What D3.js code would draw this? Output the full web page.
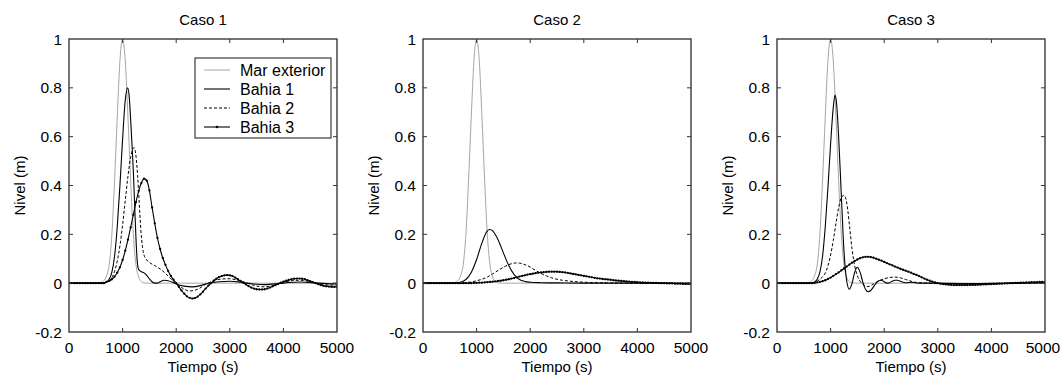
<!DOCTYPE html>
<html>
<head>
<meta charset="utf-8">
<script src="https://cdn.jsdelivr.net/npm/d3@7"></script>
<style>
  body { margin: 0; background: #fff; overflow: hidden; }
  svg { display: block; }
</style>
</head>
<body>
<svg id="chart" width="1062" height="382"></svg>
<script>
// ---- data ----
const panelTitles = ["Caso 1", "Caso 2", "Caso 3"];
const seriesNames = ["Mar exterior", "Bahia 1", "Bahia 2", "Bahia 3"];
const xTicks = [0, 1000, 2000, 3000, 4000, 5000];
const yTicks = [-0.2, 0, 0.2, 0.4, 0.6, 0.8, 1];

// [tiempo (s), nivel (m)] -- same input wave in all three cases
const marExterior = [[0,0],[500,0],[550,0.001],[600,0.003],[650,0.01],[700,0.03],[750,0.075],
  [800,0.2],[850,0.42],[900,0.68],[950,0.91],[1000,1],[1050,0.91],[1100,0.68],[1150,0.42],
  [1200,0.2],[1250,0.075],[1300,0.025],[1350,0.006],[1400,0.001],[1500,0],[5000,0]];

const caso1Bahia1 = [[0,0],[600,0],[650,0.001],[700,0.005],[750,0.016],[800,0.045],[850,0.11],
  [900,0.23],[950,0.4],[1000,0.59],[1050,0.75],[1095,0.8],[1125,0.76],[1150,0.67],[1175,0.57],
  [1200,0.46],[1225,0.32],[1250,0.18],[1275,0.085],[1300,0.056],[1350,0.047],[1400,0.042],
  [1450,0.032],[1500,0.018],[1550,0.006],[1600,0],[1650,0],[1700,0.006],[1780,0.012],[1850,0.01],
  [1950,0.002],[2000,-0.003],[2150,-0.012],[2300,-0.015],[2450,-0.01],[2600,0],[2800,0.006],
  [3000,0.008],[3200,0.004],[3400,-0.002],[3650,-0.006],[3900,-0.002],[4100,0.003],[4300,0.005],
  [4550,0.002],[4800,-0.002],[5000,-0.003]];

const caso1Bahia2 = [[0,0],[600,0],[650,0.002],[700,0.004],[750,0.01],[800,0.023],[850,0.048],
  [900,0.09],[950,0.153],[1000,0.239],[1050,0.339],[1100,0.438],[1150,0.515],[1213,0.555],
  [1250,0.52],[1280,0.44],[1310,0.33],[1340,0.22],[1370,0.15],[1400,0.115],[1450,0.095],
  [1500,0.085],[1600,0.072],[1700,0.058],[1800,0.04],[1900,0.018],[2000,-0.002],[2100,-0.018],
  [2250,-0.032],[2400,-0.025],[2550,-0.005],[2700,0.01],[2850,0.017],[3000,0.018],[3150,0.012],
  [3350,-0.002],[3500,-0.012],[3650,-0.015],[3800,-0.01],[4000,0.002],[4150,0.01],[4320,0.012],
  [4500,0.006],[4700,-0.003],[4850,-0.008],[5000,-0.008]];

const caso2Bahia1 = [[0,0],[600,0.001],[700,0.004],[800,0.015],[900,0.044],[1000,0.097],
  [1100,0.165],[1200,0.214],[1245,0.22],[1300,0.214],[1400,0.178],[1500,0.124],[1600,0.072],
  [1700,0.035],[1800,0.015],[1900,0.007],[2000,0.004],[2200,0.002],[2500,0.001],[3000,0],[5000,0]];

const caso2Bahia2 = [[0,0],[700,0],[800,0.002],[900,0.005],[1000,0.01],[1100,0.016],[1200,0.025],
  [1300,0.038],[1400,0.052],[1500,0.065],[1600,0.076],[1700,0.082],[1750,0.083],[1800,0.082],
  [1900,0.076],[2000,0.066],[2100,0.052],[2200,0.04],[2300,0.03],[2400,0.022],[2500,0.016],
  [2600,0.012],[2800,0.007],[3000,0.004],[3500,0.001],[4000,0],[5000,-0.002]];

const caso3Bahia1 = [[0,0],[600,0],[650,0.001],[700,0.005],[750,0.016],[800,0.045],[850,0.11],
  [900,0.23],[950,0.39],[1000,0.57],[1050,0.72],[1082,0.77],[1110,0.74],[1150,0.6],[1200,0.36],
  [1250,0.13],[1300,0.01],[1350,-0.025],[1400,0],[1450,0.045],[1500,0.065],[1550,0.045],
  [1600,0.005],[1650,-0.025],[1700,-0.035],[1750,-0.03],[1800,-0.015],[1850,0],[1900,0.01],
  [1950,0.012],[2000,0.006],[2050,0],[2100,0.002],[2150,0.008],[2200,0.012],[2250,0.012],
  [2300,0.008],[2400,0.002],[2500,0.004],[2600,0.001],[2700,0],[3000,0],[3500,-0.002],
  [4000,-0.001],[5000,0.001]];

const caso3Bahia2 = [[0,0],[650,0],[700,0.003],[750,0.008],[800,0.016],[850,0.026],[900,0.042],
  [950,0.07],[1000,0.115],[1050,0.175],[1100,0.245],[1150,0.31],[1200,0.35],[1250,0.36],
  [1280,0.35],[1320,0.3],[1360,0.22],[1400,0.14],[1450,0.07],[1500,0.03],[1550,0.008],
  [1600,-0.005],[1650,-0.012],[1700,-0.014],[1750,-0.01],[1800,-0.003],[1850,0.004],[1900,0.01],
  [2000,0.018],[2100,0.023],[2200,0.025],[2300,0.022],[2400,0.015],[2500,0.008],[2600,0.003],
  [2800,0],[3000,-0.002],[3500,-0.003],[4000,-0.002],[5000,0.002]];

// Bahia 3 is sampled every 50 s (one marker per sample)
const bahia3Time = d3.range(0, 5001, 50);
const caso1Bahia3 = [
  0,0,0,0,0,0,0,0,0,0,
  0,0,0,0,0.005,0.009,0.016,0.027,0.043,0.065,
  0.095,0.133,0.178,0.228,0.28,0.332,0.378,0.41,0.428,0.42,
  0.38,0.31,0.245,0.185,0.14,0.103,0.075,0.05,0.03,0.014,
  0,-0.015,-0.03,-0.043,-0.054,-0.06,-0.063,-0.061,-0.055,-0.046,
  -0.035,-0.022,-0.01,0,0.01,0.018,0.025,0.029,0.032,0.033,
  0.032,0.029,0.023,0.016,0.009,0.002,-0.005,-0.012,-0.018,-0.022,
  -0.025,-0.026,-0.026,-0.025,-0.022,-0.018,-0.013,-0.008,-0.003,0.002,
  0.006,0.01,0.013,0.016,0.018,0.019,0.019,0.018,0.016,0.012,
  0.008,0.004,0,-0.004,-0.008,-0.011,-0.013,-0.014,-0.015,-0.015,
  -0.015];
const caso2Bahia3 = [
  0,0,0,0,0,0,0,0,0,0,
  0,0,0,0,0,0,0,0,0,0.001,
  0.001,0.002,0.002,0.003,0.004,0.005,0.006,0.007,0.009,0.01,
  0.012,0.014,0.016,0.019,0.021,0.024,0.027,0.03,0.032,0.035,
  0.037,0.039,0.041,0.043,0.044,0.045,0.046,0.047,0.047,0.047,
  0.047,0.046,0.045,0.044,0.042,0.04,0.038,0.036,0.034,0.032,
  0.03,0.028,0.026,0.024,0.022,0.02,0.019,0.017,0.016,0.015,
  0.014,0.012,0.011,0.01,0.009,0.008,0.007,0.006,0.005,0.005,
  0.004,0.003,0.003,0.002,0.002,0.001,0.001,0.001,0,0,
  0,-0.001,-0.001,-0.001,-0.002,-0.002,-0.002,-0.003,-0.003,-0.003,
  -0.003];
const caso3Bahia3 = [
  0,0,0,0,0,0,0,0,0,0,
  0,0,0,0,0.001,0.003,0.005,0.008,0.012,0.017,
  0.023,0.03,0.037,0.044,0.052,0.06,0.068,0.076,0.084,0.091,
  0.097,0.102,0.106,0.108,0.108,0.107,0.104,0.1,0.096,0.092,
  0.087,0.082,0.077,0.073,0.068,0.064,0.059,0.055,0.051,0.047,
  0.043,0.038,0.034,0.029,0.024,0.019,0.014,0.01,0.006,0.003,
  0,-0.002,-0.004,-0.005,-0.006,-0.007,-0.008,-0.008,-0.008,-0.008,
  -0.008,-0.008,-0.007,-0.007,-0.007,-0.006,-0.006,-0.005,-0.005,-0.004,
  -0.004,-0.003,-0.003,-0.002,-0.002,-0.001,-0.001,0,0,0.001,
  0.001,0.002,0.002,0.003,0.003,0.004,0.004,0.004,0.005,0.005,
  0.005];

const zipBahia3 = vals => bahia3Time.map((t, i) => [t, vals[i]]);
const panels = [
  [marExterior, caso1Bahia1, caso1Bahia2, zipBahia3(caso1Bahia3)],
  [marExterior, caso2Bahia1, caso2Bahia2, zipBahia3(caso2Bahia3)],
  [marExterior, caso3Bahia1, caso3Bahia2, zipBahia3(caso3Bahia3)]
];

// ---- drawing ----
const fontFamily = '"Liberation Sans", Arial, sans-serif';
const svg = d3.select('#chart')
  .attr('font-family', fontFamily)
  .attr('font-size', 15);
const panelStep = 354;
const plotTop = 39;
const innerWidth = 268;
const innerHeight = 293;
const tick = 4;

const styles = [
  { stroke: '#a6a6a6', width: 1, dash: null, marker: false },
  { stroke: '#000', width: 1.1, dash: null, marker: false },
  { stroke: '#000', width: 1, dash: '3,2', marker: false },
  { stroke: '#000', width: 1.1, dash: null, marker: true }
];

const yScale = d3.scaleLinear().domain([-0.2, 1]).range([plotTop + innerHeight, plotTop]);
const fmtY = d => String(+d.toFixed(1));

panels.forEach((series, p) => {
  const left = 69 + p * panelStep;
  const right = left + innerWidth;
  const bottom = plotTop + innerHeight;
  const xScale = d3.scaleLinear().domain([0, 5000]).range([left, right]);
  const line = d3.line()
    .x(d => xScale(d[0]))
    .y(d => yScale(d[1]))
    .curve(d3.curveMonotoneX);

  svg.append('clipPath').attr('id', `clip${p}`)
    .append('rect').attr('x', left).attr('y', plotTop)
    .attr('width', innerWidth).attr('height', innerHeight);

  // curves
  const plot = svg.append('g').attr('clip-path', `url(#clip${p})`);
  series.forEach((data, s) => {
    const st = styles[s];
    plot.append('path')
      .datum(data)
      .attr('fill', 'none')
      .attr('stroke', st.stroke)
      .attr('stroke-width', st.width)
      .attr('stroke-dasharray', st.dash)
      .attr('d', line);
    if (st.marker) {
      plot.selectAll('.mk').data(data).enter().append('circle')
        .attr('class', 'mk')
        .attr('cx', d => xScale(d[0]))
        .attr('cy', d => yScale(d[1]))
        .attr('r', 1.15)
        .attr('fill', '#000');
    }
  });

  // inward ticks on all four sides (matlab style)
  const ticks = svg.append('g').attr('stroke', '#333').attr('stroke-width', 1);
  const innerX = xTicks.slice(1, -1);
  const innerY = yTicks.slice(1, -1);
  ticks.selectAll('.tb').data(innerX).enter().append('line')
    .attr('x1', d => xScale(d)).attr('x2', d => xScale(d))
    .attr('y1', bottom).attr('y2', bottom - tick);
  ticks.selectAll('.tt').data(innerX).enter().append('line')
    .attr('x1', d => xScale(d)).attr('x2', d => xScale(d))
    .attr('y1', plotTop).attr('y2', plotTop + tick);
  ticks.selectAll('.tl').data(innerY).enter().append('line')
    .attr('x1', left).attr('x2', left + tick)
    .attr('y1', d => yScale(d)).attr('y2', d => yScale(d));
  ticks.selectAll('.tr').data(innerY).enter().append('line')
    .attr('x1', right - tick).attr('x2', right)
    .attr('y1', d => yScale(d)).attr('y2', d => yScale(d));

  // tick labels
  svg.append('g').selectAll('text').data(xTicks).enter().append('text')
    .attr('x', d => Math.min(xScale(d), 1043))
    .attr('y', bottom + 21)
    .attr('text-anchor', 'middle')
    .attr('font-size', 15.5)
    .text(d => d);
  svg.append('g').selectAll('text').data(yTicks).enter().append('text')
    .attr('x', left - 7)
    .attr('y', d => yScale(d) + 5.5)
    .attr('text-anchor', 'end')
    .attr('font-size', 15.5)
    .text(fmtY);

  svg.append('rect')
    .attr('x', left).attr('y', plotTop)
    .attr('width', innerWidth)
    .attr('height', innerHeight)
    .attr('fill', 'none')
    .attr('stroke', '#3a3a3a')
    .attr('stroke-width', 1.4);

  svg.append('text')
    .attr('x', left + innerWidth / 2).attr('y', plotTop - 14)
    .attr('text-anchor', 'middle')
    .text(panelTitles[p]);

  svg.append('text')
    .attr('x', left + innerWidth / 2).attr('y', bottom + 40)
    .attr('text-anchor', 'middle')
    .text('Tiempo (s)');

  svg.append('text')
    .attr('transform', `translate(${left - 44}, ${plotTop + innerHeight / 2}) rotate(-90)`)
    .attr('text-anchor', 'middle')
    .text('Nivel (m)');

  // legend only in the first case
  if (p === 0) {
    const lx = left + 126, ly = plotTop + 19;
    svg.append('rect')
      .attr('x', lx).attr('y', ly)
      .attr('width', 136).attr('height', 80)
      .attr('fill', '#fff')
      .attr('stroke', '#3a3a3a')
      .attr('stroke-width', 1.2);
    seriesNames.forEach((name, s) => {
      const st = styles[s];
      const yy = ly + 12 + s * 19;
      svg.append('line')
        .attr('x1', lx + 9).attr('x2', lx + 35).attr('y1', yy).attr('y2', yy)
        .attr('stroke', st.stroke)
        .attr('stroke-width', st.width)
        .attr('stroke-dasharray', st.dash);
      if (st.marker) {
        svg.append('circle').attr('cx', lx + 22).attr('cy', yy).attr('r', 1.3).attr('fill', '#000');
      }
      svg.append('text')
        .attr('x', lx + 45).attr('y', yy + 5.5)
        .attr('font-size', 16)
        .text(name);
    });
  }
});
</script>
</body>
</html>
